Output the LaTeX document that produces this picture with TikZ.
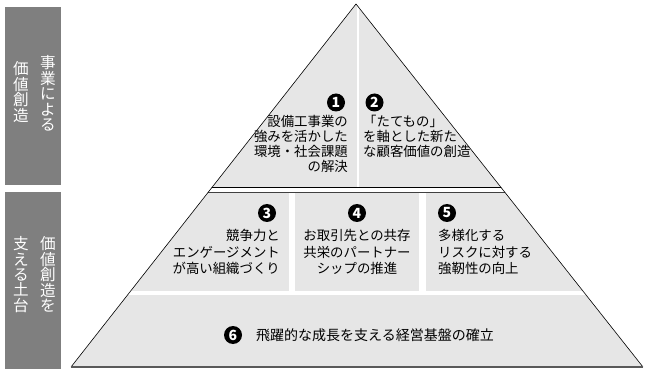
\documentclass[tikz,border=0pt]{standalone}
\usepackage{fontspec}
\usepackage{tikz}
\newfontfamily\jp{Noto Sans CJK JP}
\newcommand\tatefont{\jp\fontsize{15.6}{15.4}\selectfont\setlength{\lineskiplimit}{-20pt}}
\definecolor{pyrgray}{HTML}{E6E6E6}
\definecolor{sidegray}{HTML}{7F7F7F}
\tikzset{
  pyrtext/.style={inner sep=0pt, font=\jp\fontsize{13.4}{15}\selectfont},
  rowtext/.style={inner sep=0pt, font=\jp\fontsize{13.4}{16.5}\selectfont},
  numdot/.style={circle, fill=black, text=white, inner sep=0pt, minimum size=18pt,
    font=\jp\bfseries\fontsize{14}{14}\selectfont},
  sidebox/.style={fill=sidegray, draw=none, minimum width=56pt, inner sep=0pt},
  tate/.style={text=white, inner sep=0pt, align=center, font=\tatefont},
  edge/.style={black, line width=0.6pt},
}
\begin{document}
\begin{tikzpicture}[x=1pt,y=-1pt]
\useasboundingbox (0,0) rectangle (648,374);
\coordinate (apex) at (356,4);
\coordinate (bl) at (71,367);
\coordinate (br) at (643,367);
% pyramid body
\fill[pyrgray] (apex) -- (bl) -- (br) -- cycle;
\begin{scope}
\clip (apex) -- (bl) -- (br) -- cycle;
\fill[white] (357,0) rectangle (359,187);
\fill[white] (0,187) rectangle (648,192);
\fill[white] (289,192) rectangle (295,291);
\fill[white] (419,192) rectangle (426,291);
\fill[white] (0,291) rectangle (648,295);
\draw[black, line width=0.7pt] (0,187) -- (648,187);
\draw[black!75, line width=0.7pt] (0,192.3) -- (648,192.3);
\end{scope}
\draw[edge] (bl) -- (apex) -- (br);
\draw[black!65, line width=1.3pt] (bl) -- (br);
% side labels
\node[sidebox, minimum height=178pt] (side1) at (33,96) {};
\node[sidebox, minimum height=177pt] (side2) at (33,280.5) {};
\node[tate] (side1r) at (48,93.5) {事\\業\\に\\よ\\る};
\node[tate] (side1l) at (21,92) {価\\値\\創\\造};
\node[tate] (side2r) at (48,274.5) {価\\値\\創\\造\\を};
\node[tate] (side2l) at (21,274.5) {支\\え\\る\\土\\台};
% top
\node[numdot] (n1) at (336,102.5) {1};
\node[numdot] (n2) at (374.5,102.5) {2};
\node[pyrtext, anchor=north east, align=right] (t1) at (348,115)
  {設備工事業の\\強みを活かした\\環境・社会課題\\の解決};
\node[pyrtext, anchor=north west, align=left] (t2) at (363,115)
  {「たてもの」\\を軸とした新た\\な顧客価値の創造};
% middle
\node[numdot] (n3) at (267,213) {3};
\node[numdot] (n4) at (357,213) {4};
\node[numdot] (n5) at (447,213) {5};
\node[rowtext, anchor=north east, align=right] (t3) at (280,229.5)
  {競争力と\\エンゲージメント\\が高い組織づくり};
\node[rowtext, anchor=north, align=center] (t4) at (357,229.5)
  {お取引先との共存\\共栄のパートナー\\シップの推進};
\node[rowtext, anchor=north west, align=left] (t5) at (438,229.5)
  {多様化する\\リスクに対する\\強靭性の向上};
% bottom
\node[numdot] (n6) at (233,335) {6};
\node[pyrtext, anchor=west, font=\jp\fontsize{14}{15}\selectfont] (t6) at (256,335)
  {飛躍的な成長を支える経営基盤の確立};
\end{tikzpicture}
\end{document}
